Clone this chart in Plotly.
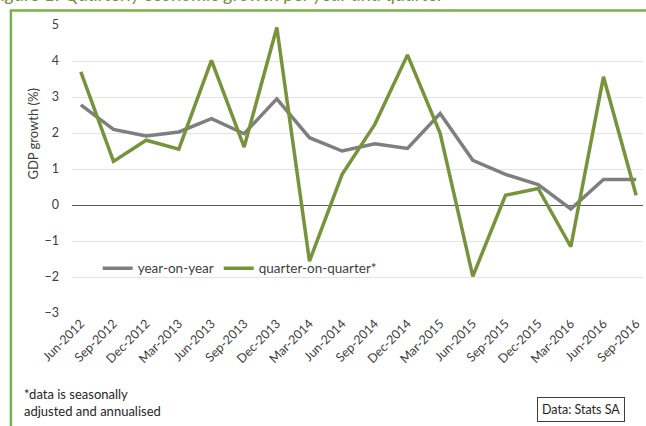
import plotly.graph_objects as go

# quarters on the category axis
quarters = ["Jun-2012", "Sep-2012", "Dec-2012", "Mar-2013", "Jun-2013", "Sep-2013",
            "Dec-2013", "Mar-2014", "Jun-2014", "Sep-2014", "Dec-2014", "Mar-2015",
            "Jun-2015", "Sep-2015", "Dec-2015", "Mar-2016", "Jun-2016", "Sep-2016"]

# GDP growth (%)
year_on_year = [2.78, 2.1, 1.92, 2.03, 2.4, 1.98, 2.95, 1.87, 1.5, 1.7, 1.57, 2.54,
                1.24, 0.85, 0.57, -0.11, 0.71, 0.71]
quarter_on_quarter = [3.7, 1.21, 1.8, 1.55, 4.02, 1.61, 4.93, -1.56, 0.85, 2.24, 4.17, 1.99,
                      -1.98, 0.27, 0.46, -1.16, 3.56, 0.27]

y_ticks = [-3, -2, -1, 0, 1, 2, 3, 4, 5]

FONT = "Lato, 'Open Sans', sans-serif"
GRAY = "#7f7f7f"
GREEN = "#77933c"
FRAME = "#7ab04a"

fig = go.Figure()
fig.add_trace(go.Scatter(x=list(range(len(quarters))), y=year_on_year, mode="lines",
                         name="year-on-year", line=dict(color=GRAY, width=3.5)))
fig.add_trace(go.Scatter(x=list(range(len(quarters))), y=quarter_on_quarter, mode="lines",
                         name="quarter-on-quarter*", line=dict(color=GREEN, width=3.5)))

fig.update_layout(
    width=646, height=426,
    margin=dict(l=72, r=3, t=25, b=113),
    paper_bgcolor="white", plot_bgcolor="white",
    font=dict(family=FONT, color="#404040", size=12),
    showlegend=True,
    legend=dict(orientation="h", x=0.045, y=0.155, yanchor="middle", xanchor="left",
                bgcolor="rgba(0,0,0,0)", font=dict(size=13.5, color="#404040"),
                itemwidth=30, tracegroupgap=0),
)

fig.update_xaxes(
    range=[-0.27, 17.21],
    tickmode="array", tickvals=list(range(len(quarters))), ticktext=quarters,
    tickangle=-45, showgrid=False, showline=False, zeroline=False,
    automargin=False, tickfont=dict(size=12.5, color="#404040"),
)
fig.update_yaxes(
    range=[-3, 5], tickvals=y_ticks,
    showgrid=True, gridcolor="#e3e3e3", gridwidth=1,
    zeroline=True, zerolinecolor="#5a5a5a", zerolinewidth=1.3,
    showline=False, automargin=False, ticklabelstandoff=12,
    tickfont=dict(size=12.5, color="#404040"),
)

# y axis title
fig.add_annotation(text="GDP growth (%)", xref="paper", yref="paper", x=-0.068, y=0.62,
                   xanchor="center", yanchor="middle",
                   textangle=-90, showarrow=False, font=dict(size=13, color="#404040"))

# footnote and source box
fig.add_annotation(text="*data is seasonally<br>adjusted and annualised",
                   xref="paper", yref="paper", x=-0.088, y=-0.245,
                   xanchor="left", yanchor="top", align="left", showarrow=False,
                   font=dict(size=13, color="#262626"))
fig.add_annotation(text="Data: Stats SA", xref="paper", yref="paper", x=0.891, y=-0.334,
                   xanchor="center", yanchor="middle",
                   showarrow=False, bordercolor="#404040", borderwidth=1, borderpad=4,
                   bgcolor="white", font=dict(size=12.5, color="#262626"))

# title above the frame, cut by the top edge of the page as in the source image
fig.add_annotation(text="<i>Figure 1: Quarterly economic growth per year and quarter</i>",
                   xref="paper", yref="paper", x=-0.145, y=1.062,
                   xanchor="left", yanchor="bottom", showarrow=False,
                   font=dict(size=19, color=GREEN))

# green frame round the chart
fig.add_shape(type="rect", xref="paper", yref="paper", x0=-0.107, x1=1.2, y0=-0.6, y1=1.0505,
              line=dict(color=FRAME, width=2.5), fillcolor="rgba(0,0,0,0)", layer="below")

# page body has a default margin; drop it so the figure sits at the corner
fig.write_html("out.html", config={"displayModeBar": False},
               post_script="document.body.style.margin='0';")
